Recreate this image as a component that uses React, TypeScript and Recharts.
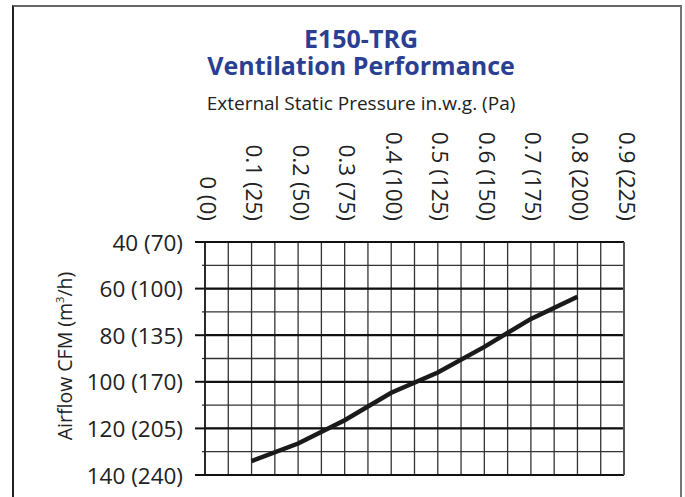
import React from 'react';
import { LineChart, Line, XAxis, YAxis, CartesianGrid, ReferenceLine } from 'recharts';

// pressure in.w.g. vs airflow CFM
const pressure = [0.1, 0.2, 0.3, 0.4, 0.5, 0.6, 0.7, 0.8];
const airflow = [134, 126.5, 116.5, 104.7, 96, 85, 73, 63.5];

const xGridTicks = [0, 0.05, 0.1, 0.15, 0.2, 0.25, 0.3, 0.35, 0.4, 0.45, 0.5, 0.55, 0.6, 0.65, 0.7, 0.75, 0.8, 0.85, 0.9];
const xTickLabels = ['0 (0)', '0.1 (25)', '0.2 (50)', '0.3 (75)', '0.4 (100)', '0.5 (125)', '0.6 (150)', '0.7 (175)', '0.8 (200)', '0.9 (225)'];

const yGridTicks = [40, 50, 60, 70, 80, 90, 100, 110, 120, 130, 140];
const yMajorTicks = [40, 60, 80, 100, 120, 140];
const yTickLabels = ['40 (70)', '60 (100)', '80 (135)', '100 (170)', '120 (205)', '140 (240)'];

const data = pressure.map((p, i) => ({ p, cfm: airflow[i] }));

const FONT = '"Open Sans", sans-serif';
const BLUE = '#2b3f92';

const XTick = (props: any) => {
  const { x, payload } = props;
  const idx = Math.round(payload.value * 20);
  if (idx % 2 !== 0) return <g />;
  const label = xTickLabels[idx / 2];
  return (
    <g transform={`translate(${x + 3},221) rotate(90)`}>
      <text x={0} y={0} textAnchor="end" dominantBaseline="central" fontSize={22.5} fill="#222" fontFamily={FONT}>
        {label}
      </text>
    </g>
  );
};

const YTick = (props: any) => {
  const { y, payload } = props;
  const mi = yMajorTicks.indexOf(payload.value);
  if (mi < 0) {
    return <line x1={202} x2={205} y1={y} y2={y} stroke="#222" strokeWidth={1.2} />;
  }
  return (
    <g>
      <line x1={195} x2={205} y1={y} y2={y} stroke="#111" strokeWidth={2} />
      <text x={183} y={y} textAnchor="end" dominantBaseline="central" fontSize={22.5} fill="#222" fontFamily={FONT}>
        {yTickLabels[mi]}
      </text>
    </g>
  );
};

export default function App() {
  return (
    <div style={{ position: 'absolute', left: 0, top: 0, width: 685, height: 497, background: '#fff', overflow: 'hidden' }}>
      <div
        style={{
          position: 'absolute',
          left: 12,
          top: 5,
          width: 666,
          height: 520,
          borderLeft: '2px solid #222',
          borderTop: '2px solid #666',
          borderRight: '2px solid #777',
        }}
      />
      <div style={{ position: 'absolute', left: 0, top: 25, width: 722, textAlign: 'center', fontFamily: FONT, fontWeight: 700, color: BLUE, fontSize: 25, lineHeight: '26px' }}>
        E150-TRG
      </div>
      <div style={{ position: 'absolute', left: 0, top: 52, width: 722, textAlign: 'center', fontFamily: FONT, fontWeight: 700, color: BLUE, fontSize: 25, lineHeight: '26px' }}>
        Ventilation Performance
      </div>
      <div style={{ position: 'absolute', left: 0, top: 91, width: 722, textAlign: 'center', fontFamily: FONT, color: '#222', fontSize: 19, lineHeight: '24px' }}>
        External Static Pressure in.w.g. (Pa)
      </div>
      <div
        style={{
          position: 'absolute',
          left: 64,
          top: 356,
          transform: 'translate(-50%,-50%) rotate(-90deg)',
          whiteSpace: 'nowrap',
          fontFamily: FONT,
          color: '#222',
          fontSize: 19.5,
        }}
      >
        Airflow CFM (m<sup style={{ fontSize: 11 }}>3</sup>/h)
      </div>
      <div style={{ position: 'absolute', left: 0, top: 0 }}>
        <LineChart width={685} height={497} data={data} margin={{ top: 202, right: 61, bottom: 22, left: 0 }}>
          <CartesianGrid stroke="#333" strokeWidth={1.3} />
          <XAxis
            dataKey="p"
            type="number"
            orientation="top"
            domain={[0, 0.9]}
            ticks={xGridTicks}
            interval={0}
            axisLine={false}
            tickLine={false}
            height={40}
            tick={<XTick />}
          />
          <YAxis
            type="number"
            reversed
            domain={[40, 140]}
            ticks={yGridTicks}
            interval={0}
            axisLine={false}
            tickLine={false}
            width={205}
            tick={<YTick />}
          />
          {yMajorTicks.map((v) => (
            <ReferenceLine key={v} y={v} stroke="#111" strokeWidth={2.2} />
          ))}
          <ReferenceLine x={0} stroke="#222" strokeWidth={1.8} />
          <ReferenceLine x={0.9} stroke="#555" strokeWidth={2} />
          <Line dataKey="cfm" stroke="#1a1a1a" strokeWidth={4.5} dot={false} isAnimationActive={false} />
        </LineChart>
      </div>
    </div>
  );
}
